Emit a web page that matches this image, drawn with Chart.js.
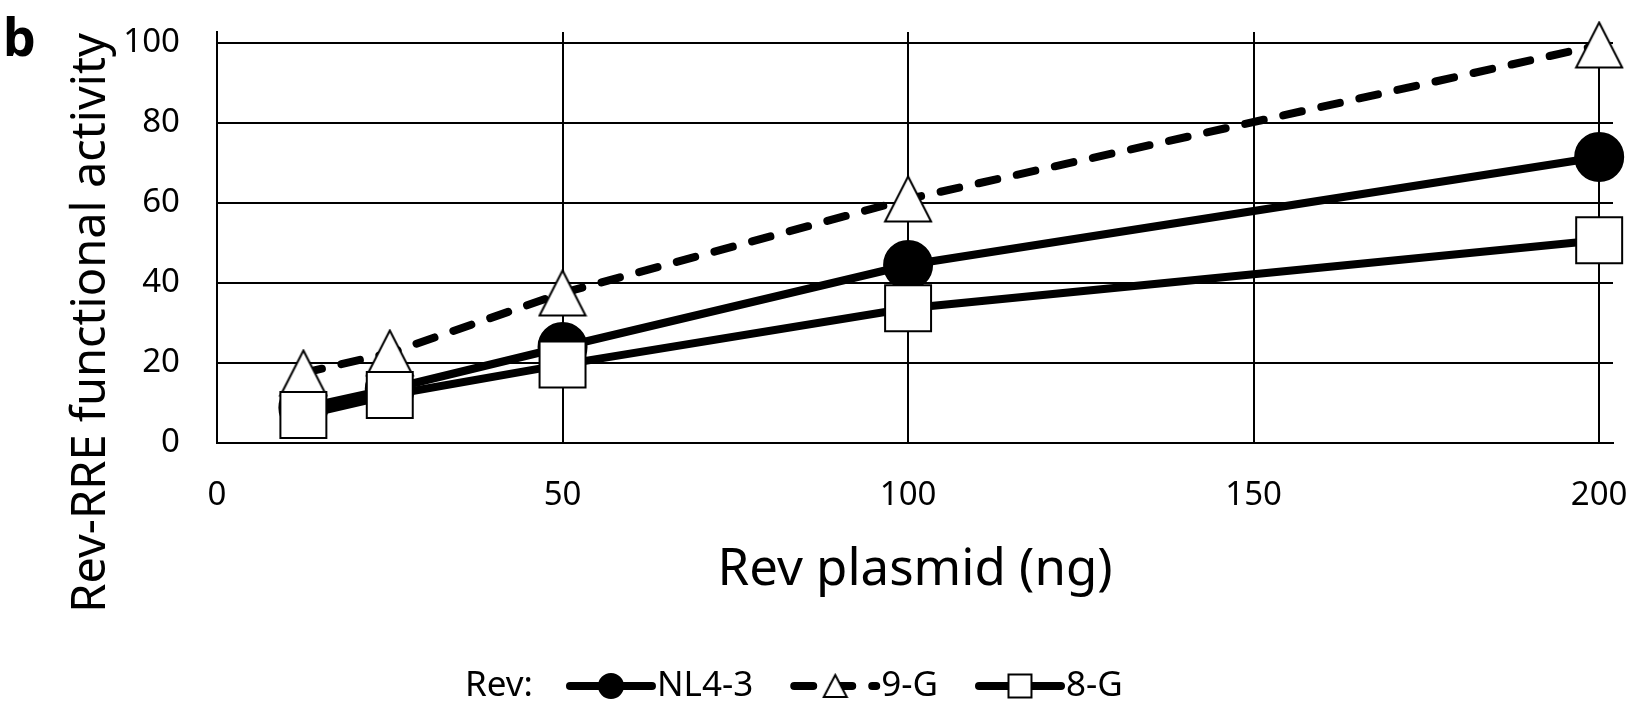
<!DOCTYPE html>
<html>
<head>
<meta charset="utf-8">
<script src="https://cdn.jsdelivr.net/npm/chart.js@4.4.1/dist/chart.umd.min.js"></script>
<style>
  html, body { margin: 0; padding: 0; background: #fff; overflow: hidden; }
  canvas { display: block; }
</style>
</head>
<body>
<canvas id="revChart" width="1632" height="706"></canvas>
<script>
// Rev-RRE activity vs amount of Rev plasmid (panel b)

const plasmidNg = [12.5, 25, 50, 100, 200];
const nl43 = [8.8, 13.5, 24, 44.5, 71.5];
const g9 = [17.5, 22.5, 37.5, 61, 99.5];
const g8 = [7, 12, 19.6, 33.7, 50.7];
const xTicks = [0, 50, 100, 150, 200];
const yTicks = [0, 20, 40, 60, 80, 100];
const seriesNames = ['NL4-3', '9-G', '8-G'];

const FONT = '"Noto Sans", "DejaVu Sans", sans-serif';

// open triangle drawn centred on its box (like the original markers)
function triangleMarker(w, h, lw) {
  const c = document.createElement('canvas');
  c.width = w + lw * 2;
  c.height = h + lw * 2;
  const g = c.getContext('2d');
  g.beginPath();
  g.moveTo(c.width / 2, lw);
  g.lineTo(c.width - lw, lw + h);
  g.lineTo(lw, lw + h);
  g.closePath();
  g.fillStyle = '#fff';
  g.fill();
  g.lineWidth = lw;
  g.strokeStyle = '#000';
  g.stroke();
  return c;
}

const bigTriangle = triangleMarker(46, 45, 2);
const smallTriangle = triangleMarker(23, 22, 2);

function toPoints(ys) {
  return plasmidNg.map((x, i) => ({ x: x, y: ys[i] }));
}

function noPadding(scale) {
  scale.paddingTop = 0;
  scale.paddingBottom = 0;
  scale.paddingLeft = 0;
  scale.paddingRight = 0;
}

// legend + y title + panel letter
const extras = {
  id: 'extras',
  afterDraw(chart) {
    const ctx = chart.ctx;
    ctx.save();
    ctx.fillStyle = '#000';

    ctx.font = 'bold 52px ' + FONT;
    ctx.textAlign = 'left';
    ctx.textBaseline = 'alphabetic';
    ctx.fillText('b', 3, 56);

    ctx.save();
    ctx.translate(105, 323);
    ctx.rotate(-Math.PI / 2);
    ctx.font = '47px ' + FONT;
    ctx.textAlign = 'center';
    ctx.fillText('Rev-RRE functional activity', 0, 0);
    ctx.restore();

    const y = 686;
    let x = 465;
    ctx.font = '35px ' + FONT;
    ctx.textBaseline = 'middle';
    ctx.textAlign = 'left';
    ctx.fillText('Rev:', x, y);
    x += ctx.measureText('Rev:').width + 33;

    chart.data.datasets.forEach(ds => {
      ctx.save();
      ctx.strokeStyle = '#000';
      ctx.lineWidth = 8;
      ctx.lineCap = 'round';
      ctx.setLineDash(ds.borderDash || []);
      ctx.beginPath();
      ctx.moveTo(x + 4, y);
      ctx.lineTo(x + 86, y);
      ctx.stroke();
      ctx.restore();

      ctx.save();
      ctx.fillStyle = ds.pointBackgroundColor;
      ctx.strokeStyle = '#000';
      ctx.lineWidth = 2;
      Chart.helpers.drawPoint(ctx, {
        pointStyle: ds.legendStyle,
        radius: ds.pointRadius / 2,
        borderWidth: 2,
        rotation: 0
      }, x + 45, y);
      ctx.restore();

      ctx.fillText(ds.label, x + 91, y);
      x += 91 + ctx.measureText(ds.label).width + 37;
    });
    ctx.restore();
  }
};

new Chart(document.getElementById('revChart'), {
  type: 'line',
  data: {
    datasets: [{
      label: seriesNames[0],
      data: toPoints(nl43),
      borderColor: '#000',
      borderWidth: 8,
      pointStyle: 'circle',
      legendStyle: 'circle',
      pointRadius: 24,
      pointBackgroundColor: '#000',
      pointBorderColor: '#000',
      pointBorderWidth: 2,
      order: 2
    }, {
      label: seriesNames[1],
      data: toPoints(g9),
      borderColor: '#000',
      borderWidth: 8,
      borderDash: [19, 20],
      borderCapStyle: 'round',
      pointStyle: bigTriangle,
      legendStyle: smallTriangle,
      pointRadius: 24,
      pointBackgroundColor: '#fff',
      pointBorderColor: '#000',
      pointBorderWidth: 2,
      order: 1
    }, {
      label: seriesNames[2],
      data: toPoints(g8),
      borderColor: '#000',
      borderWidth: 8,
      pointStyle: 'rect',
      legendStyle: 'rect',
      pointRadius: 32.5,
      pointBackgroundColor: '#fff',
      pointBorderColor: '#000',
      pointBorderWidth: 2,
      order: 0
    }]
  },
  options: {
    responsive: false,
    animation: false,
    clip: false,
    layout: { autoPadding: false, padding: { top: 32, right: 19, bottom: 0, left: 0 } },
    elements: { line: { tension: 0 } },
    plugins: {
      legend: { display: false },
      tooltip: { enabled: false }
    },
    scales: {
      x: {
        type: 'linear',
        min: 0,
        max: 202,
        afterBuildTicks: s => { s.ticks = xTicks.map(v => ({ value: v })); },
        afterFit: s => { s.height = 263; noPadding(s); },
        grid: { color: '#000', lineWidth: 2, drawTicks: false },
        border: { color: '#000', width: 2 },
        ticks: { color: '#000', padding: 33, maxRotation: 0, font: { family: FONT, size: 33 } },
        title: {
          display: true,
          text: 'Rev plasmid (ng)',
          color: '#000',
          font: { family: FONT, size: 51 },
          padding: { top: 0, bottom: 105 }
        }
      },
      y: {
        min: 0,
        max: 102.75,
        afterBuildTicks: s => { s.ticks = yTicks.map(v => ({ value: v })); },
        afterFit: s => { s.width = 217; noPadding(s); },
        grid: { color: '#000', lineWidth: 2, drawTicks: false },
        border: { color: '#000', width: 2 },
        ticks: { color: '#000', padding: 37, font: { family: FONT, size: 33 } }
      }
    }
  },
  plugins: [extras]
});
</script>
</body>
</html>
